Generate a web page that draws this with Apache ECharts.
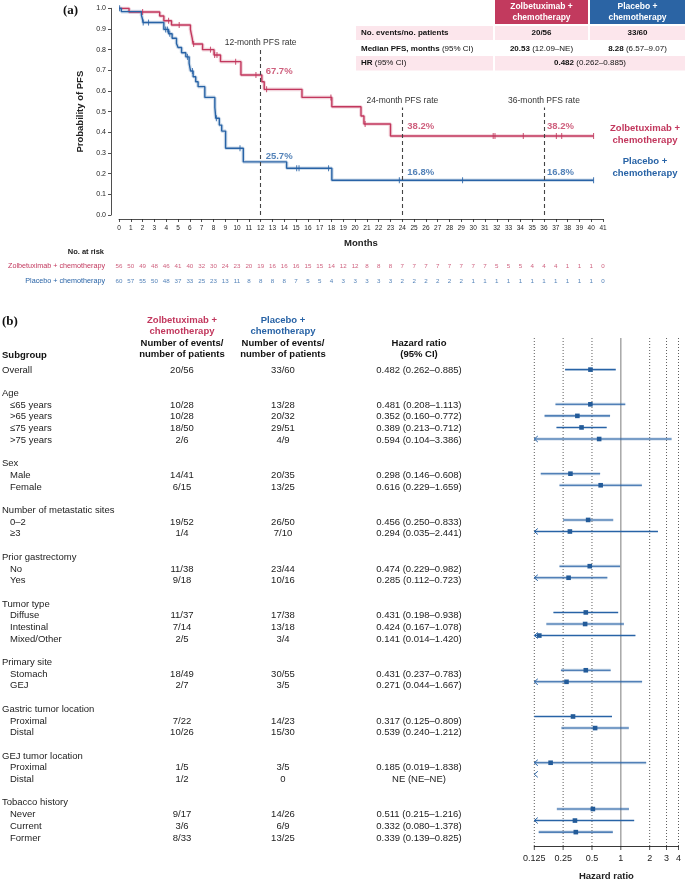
<!DOCTYPE html>
<html>
<head>
<meta charset="utf-8">
<script src="https://cdn.jsdelivr.net/npm/echarts@6/dist/echarts.min.js"></script>
<style>
  html, body { margin: 0; padding: 0; background: #fff; }
  #main { width: 685px; height: 886px; }
</style>
</head>
<body>
<div id="main"></div>
<script>
// ---- panel (a): Kaplan-Meier PFS ----
const zolbeSteps = [
  [0, 1], [0.85, 0.982], [3.45, 0.963], [3.8, 0.94], [4.45, 0.919], [6.05, 0.898], [6.12, 0.877],
  [6.2, 0.856], [6.28, 0.827], [7.08, 0.8], [8.05, 0.774], [8.6, 0.742], [10.33, 0.677],
  [12.1, 0.645], [12.3, 0.608], [15.5, 0.569], [18.03, 0.524], [20.5, 0.479], [20.75, 0.44],
  [23.0, 0.382], [40.2, 0.382]
];
const placeboSteps = [
  [0, 1], [0.2, 0.984], [1.9, 0.967], [1.97, 0.952], [2.04, 0.931], [3.8, 0.898], [4.2, 0.877],
  [4.5, 0.855], [4.87, 0.83], [5.0, 0.81], [5.3, 0.785], [5.66, 0.765], [5.94, 0.734],
  [6.06, 0.697], [6.28, 0.669], [6.5, 0.645], [6.7, 0.621], [7.27, 0.569], [8.12, 0.52],
  [8.2, 0.468], [8.5, 0.435], [8.7, 0.406], [9.03, 0.323], [10.53, 0.257], [14.2, 0.226],
  [18.03, 0.168], [40.2, 0.168]
];
const zolbeCensor = [2.0, 4.2, 5.1, 6.32, 7.75, 8.1, 8.3, 9.88, 11.6, 12.5, 17.95, 20.85, 31.7, 31.85, 34.25, 37.05, 37.5, 40.2];
const placeboCensor = [0.05, 2.05, 2.5, 3.95, 4.1, 4.3, 5.8, 6.22, 8.25, 10.25, 15.05, 15.25, 17.75, 23.75, 29.1, 40.2];

const landmarkMonths = [12, 24, 36];
const landmarkTop = [0.8, 0.52, 0.52];
const zolbeRates = [0.677, 0.382, 0.382];
const placeboRates = [0.257, 0.168, 0.168];

const zolbeAtRisk = [56, 50, 49, 48, 46, 41, 40, 32, 30, 24, 23, 20, 19, 16, 16, 16, 15, 15, 14, 12, 12, 8, 8, 8,
  7, 7, 7, 7, 7, 7, 7, 7, 5, 5, 5, 4, 4, 4, 1, 1, 1, 0];
const placeboAtRisk = [60, 57, 55, 50, 48, 37, 33, 25, 23, 13, 11, 8, 8, 8, 8, 7, 5, 5, 4, 3, 3, 3, 3, 3,
  2, 2, 2, 2, 2, 2, 1, 1, 1, 1, 1, 1, 1, 1, 1, 1, 1, 0];

// ---- panel (b): forest plot ----
const subgroups = ['Overall', '', 'Age', '≤65 years', '>65 years', '≤75 years', '>75 years', '',
  'Sex', 'Male', 'Female', '', 'Number of metastatic sites', '0–2', '≥3', '',
  'Prior gastrectomy', 'No', 'Yes', '', 'Tumor type', 'Diffuse', 'Intestinal', 'Mixed/Other', '',
  'Primary site', 'Stomach', 'GEJ', '', 'Gastric tumor location', 'Proximal', 'Distal', '',
  'GEJ tumor location', 'Proximal', 'Distal', '', 'Tobacco history', 'Never', 'Current', 'Former'];
const zolbeEvents = ['20/56', '', '', '10/28', '10/28', '18/50', '2/6', '', '', '14/41', '6/15', '', '', '19/52', '1/4', '',
  '', '11/38', '9/18', '', '', '11/37', '7/14', '2/5', '', '', '18/49', '2/7', '', '', '7/22', '10/26', '',
  '', '1/5', '1/2', '', '', '9/17', '3/6', '8/33'];
const placeboEvents = ['33/60', '', '', '13/28', '20/32', '29/51', '4/9', '', '', '20/35', '13/25', '', '', '26/50', '7/10', '',
  '', '23/44', '10/16', '', '', '17/38', '13/18', '3/4', '', '', '30/55', '3/5', '', '', '14/23', '15/30', '',
  '', '3/5', '0', '', '', '14/26', '6/9', '13/25'];
const hr = [0.482, null, null, 0.481, 0.352, 0.389, 0.594, null, null, 0.298, 0.616, null, null, 0.456, 0.294, null,
  null, 0.474, 0.285, null, null, 0.431, 0.424, 0.141, null, null, 0.431, 0.271, null, null, 0.317, 0.539, null,
  null, 0.185, 'NE', null, null, 0.511, 0.332, 0.339];
const ciLow = [0.262, null, null, 0.208, 0.160, 0.213, 0.104, null, null, 0.146, 0.229, null, null, 0.250, 0.035, null,
  null, 0.229, 0.112, null, null, 0.198, 0.167, 0.014, null, null, 0.237, 0.044, null, null, 0.125, 0.240, null,
  null, 0.019, 'NE', null, null, 0.215, 0.080, 0.139];
const ciHigh = [0.885, null, null, 1.113, 0.772, 0.712, 3.386, null, null, 0.608, 1.659, null, null, 0.833, 2.441, null,
  null, 0.982, 0.723, null, null, 0.938, 1.078, 1.420, null, null, 0.783, 1.667, null, null, 0.809, 1.212, null,
  null, 1.838, 'NE', null, null, 1.216, 1.378, 0.825];
const hrTicks = [0.125, 0.25, 0.5, 1, 2, 3, 4];

const RED = '#c2375d';
const BLUE = '#2863a6';
const FONT = '"Liberation Sans", Arial, sans-serif';
const isHeader = (i) => subgroups[i] !== '' && subgroups[i] !== 'Overall' && zolbeEvents[i] === '';

function survAt(steps, t) {
  let s = steps[0][1];
  for (const p of steps) { if (p[0] <= t) s = p[1]; }
  return s;
}
function fmt3(v) { return v === 'NE' ? 'NE' : v.toFixed(3); }

const ROW_MIN = -2.735, ROW_MAX = 41.2;

const chart = echarts.init(document.getElementById('main'), null, { renderer: 'canvas' });

function kmSeries(steps, color, censor, rates, dy) {
  return [
    {
      type: 'line', xAxisIndex: 0, yAxisIndex: 0, step: 'end', data: steps, symbol: 'none',
      lineStyle: { color: color, width: 3.6, opacity: 0.22 }, silent: true, z: 2
    },
    {
      type: 'line', xAxisIndex: 0, yAxisIndex: 0, step: 'end', data: steps, symbol: 'none',
      lineStyle: { color: color, width: 1.4 }, z: 3
    },
    {
      type: 'scatter', xAxisIndex: 0, yAxisIndex: 0, symbol: 'rect', symbolSize: [1.1, 6],
      itemStyle: { color: color }, data: censor.map(t => [t, survAt(steps, t)]), z: 4
    },
    {
      type: 'scatter', xAxisIndex: 0, yAxisIndex: 0, symbolSize: 0, z: 5,
      data: landmarkMonths.map((m, i) => ({
        value: [m, rates[i]],
        label: { position: [i === 2 ? 3 : 5, dy[i]] }
      })),
      label: {
        show: true, align: 'left', verticalAlign: 'middle',
        formatter: p => (p.value[1] * 100).toFixed(1) + '%',
        color: color, fontWeight: 'bold', fontSize: 9.5, fontFamily: FONT
      }
    }
  ];
}

const series = [
  ...kmSeries(zolbeSteps, RED, zolbeCensor, zolbeRates, [-4, -10, -10]),
  ...kmSeries(placeboSteps, BLUE, placeboCensor, placeboRates, [-6, -8, -8])
];

// landmark dashed lines
series.push({
  type: 'line', xAxisIndex: 0, yAxisIndex: 0, data: [], silent: true,
  markLine: {
    symbol: 'none', silent: true, animation: false,
    lineStyle: { type: [4, 3], color: '#444', width: 1.1 },
    label: { show: true, position: 'end', distance: 2, color: '#333', fontSize: 8.5, fontFamily: FONT },
    data: landmarkMonths.map((m, i) => [
      { coord: [m, 0] },
      { coord: [m, landmarkTop[i]], label: { formatter: m + '-month PFS rate' } }
    ])
  }
});

// number at risk
[[zolbeAtRisk, 1, RED], [placeboAtRisk, 0, BLUE]].forEach(([arr, row, color]) => {
  series.push({
    type: 'scatter', xAxisIndex: 1, yAxisIndex: 1, symbolSize: 0,
    data: arr.map((n, i) => [i, row, n]),
    label: { show: true, position: 'inside', formatter: p => p.value[2], color: color, fontSize: 6.2, fontFamily: FONT }
  });
});

// forest reference lines and tick labels
series.push({
  type: 'custom', xAxisIndex: 2, yAxisIndex: 2, silent: true, clip: false,
  data: hrTicks.map(v => [v, 0]),
  renderItem: (params, api) => {
    const v = api.value(0);
    const top = api.coord([v, ROW_MIN]);
    const bot = api.coord([v, ROW_MAX]);
    const solid = v === 1;
    return {
      type: 'group', children: [
        {
          type: 'line', shape: { x1: top[0], y1: top[1], x2: bot[0], y2: bot[1] },
          style: solid ? { stroke: '#9a9a9a', lineWidth: 1.3 } : { stroke: '#333', lineWidth: 0.8, lineDash: [1, 2] }
        },
        { type: 'line', shape: { x1: bot[0], y1: bot[1], x2: bot[0], y2: bot[1] + 4 }, style: { stroke: '#222', lineWidth: 0.8 } },
        {
          type: 'text', x: bot[0], y: bot[1] + 8,
          style: { text: String(v), fill: '#222', fontSize: 9, fontFamily: FONT, align: 'center', verticalAlign: 'top' }
        }
      ]
    };
  }
});

// forest CIs
const forestRows = hr.map((v, i) => (v === null ? -1 : i)).filter(i => i >= 0);
series.push({
  type: 'custom', xAxisIndex: 2, yAxisIndex: 2, clip: false,
  data: forestRows.map(r => [1, r]),
  renderItem: (params, api) => {
    const r = api.value(1);
    const children = [];
    const arrow = () => {
      const p = api.coord([0.125, r]);
      children.push({
        type: 'polyline', shape: { points: [[p[0] + 3.5, p[1] - 3], [p[0], p[1]], [p[0] + 3.5, p[1] + 3]] },
        style: { stroke: BLUE, lineWidth: 1, fill: null }
      });
    };
    if (hr[r] === 'NE') {
      arrow();
      return { type: 'group', children };
    }
    const lo = api.coord([Math.max(ciLow[r], 0.125), r]);
    const hi = api.coord([Math.min(ciHigh[r], 4), r]);
    const c = api.coord([hr[r], r]);
    children.push({
      type: 'line', shape: { x1: lo[0], y1: lo[1], x2: hi[0], y2: hi[1] },
      style: { stroke: BLUE, lineWidth: 3, opacity: 0.25 }
    });
    children.push({
      type: 'line', shape: { x1: lo[0], y1: lo[1], x2: hi[0], y2: hi[1] },
      style: { stroke: BLUE, lineWidth: 1.1 }
    });
    if (ciLow[r] < 0.125) arrow();
    children.push({
      type: 'rect', shape: { x: c[0] - 2.3, y: c[1] - 2.3, width: 4.6, height: 4.6 },
      style: { fill: '#235b99' }
    });
    return { type: 'group', children };
  }
});

// forest table text
series.push({
  type: 'custom', xAxisIndex: 3, yAxisIndex: 3, silent: true, clip: false,
  data: subgroups.map((s, i) => [0, i]),
  renderItem: (params, api) => {
    const r = api.value(1);
    const txt = (x, text, align) => {
      const p = api.coord([x, r]);
      return {
        type: 'text', x: p[0], y: p[1],
        style: { text: text, fill: '#222', fontSize: 9.5, fontFamily: FONT, align: align, verticalAlign: 'middle' }
      };
    };
    const indent = subgroups[r] === 'Overall' || isHeader(r) ? 2 : 10;
    const children = [txt(indent, subgroups[r], 'left')];
    if (zolbeEvents[r] !== '') {
      children.push(txt(182, zolbeEvents[r], 'center'));
      children.push(txt(283, placeboEvents[r], 'center'));
      const hrStr = hr[r] === 'NE' ? 'NE (NE–NE)' : fmt3(hr[r]) + ' (' + fmt3(ciLow[r]) + '–' + fmt3(ciHigh[r]) + ')';
      children.push(txt(419, hrStr, 'center'));
    }
    return { type: 'group', children };
  }
});

const axisText = { color: '#222', fontFamily: FONT };

const option = {
  animation: false,
  backgroundColor: '#fff',
  textStyle: { fontFamily: FONT },
  grid: [
    { left: 119, right: 82, top: 8.3, height: 206.7 },
    { left: 119, right: 82, top: 266, height: 15 },
    { left: 534.3, right: 6.5, top: 338, bottom: 34 },
    { left: 0, width: 500, top: 338, bottom: 34 }
  ],
  xAxis: [
    {
      gridIndex: 0, type: 'value', min: 0, max: 41, interval: 1, offset: 4,
      axisLine: { onZero: false, lineStyle: { color: '#222', width: 0.8 } },
      axisTick: { length: 3, lineStyle: { color: '#222', width: 0.8 } },
      axisLabel: { ...axisText, fontSize: 6.5, margin: 6 },
      splitLine: { show: false },
      name: 'Months', nameLocation: 'middle', nameGap: 19,
      nameTextStyle: { ...axisText, fontSize: 9.5, fontWeight: 'bold' }
    },
    { gridIndex: 1, type: 'value', min: 0, max: 41, show: false },
    {
      gridIndex: 2, type: 'log', logBase: 2, min: 0.125, max: 4,
      axisLine: { onZero: false, lineStyle: { color: '#222', width: 0.9 } },
      axisTick: { show: false }, axisLabel: { show: false }, splitLine: { show: false },
      name: 'Hazard ratio', nameLocation: 'middle', nameGap: 25,
      nameTextStyle: { ...axisText, fontSize: 9.5, fontWeight: 'bold' }
    },
    { gridIndex: 3, type: 'value', min: 0, max: 500, show: false }
  ],
  yAxis: [
    {
      gridIndex: 0, type: 'value', min: 0, max: 1, interval: 0.1, offset: 8,
      axisLine: { show: true, onZero: false, lineStyle: { color: '#222', width: 0.8 } },
      axisTick: { show: true, length: 3, lineStyle: { color: '#222', width: 0.8 } },
      axisLabel: { ...axisText, fontSize: 7, margin: 5, formatter: v => v.toFixed(1) },
      splitLine: { show: false },
      name: 'Probability of PFS', nameLocation: 'middle', nameGap: 25,
      nameTextStyle: { ...axisText, fontSize: 9.5, fontWeight: 'bold' }
    },
    {
      gridIndex: 1, type: 'category', boundaryGap: false,
      data: ['Placebo + chemotherapy', 'Zolbetuximab + chemotherapy'],
      axisLine: { show: false }, axisTick: { show: false },
      axisLabel: {
        fontSize: 7.2, margin: 14, fontFamily: FONT,
        color: (v) => (v.indexOf('Zolbe') === 0 ? RED : BLUE)
      }
    },
    { gridIndex: 2, type: 'value', inverse: true, min: ROW_MIN, max: ROW_MAX, show: false },
    { gridIndex: 3, type: 'value', inverse: true, min: ROW_MIN, max: ROW_MAX, show: false }
  ],
  series: series,
  graphic: [
    // panel labels
    { type: 'text', left: 63, top: 4, style: { text: '(a)', font: 'bold 13px "Liberation Serif", serif', fill: '#111' } },
    { type: 'text', left: 2, top: 315, style: { text: '(b)', font: 'bold 13px "Liberation Serif", serif', fill: '#111' } },
    // arm labels at right of KM
    {
      type: 'text', x: 645, y: 134,
      style: { text: 'Zolbetuximab +\nchemotherapy', fill: RED, font: 'bold 9.5px ' + FONT, align: 'center', verticalAlign: 'middle', lineHeight: 12 }
    },
    {
      type: 'text', x: 645, y: 167,
      style: { text: 'Placebo +\nchemotherapy', fill: BLUE, font: 'bold 9.5px ' + FONT, align: 'center', verticalAlign: 'middle', lineHeight: 12 }
    },
    // number at risk title
    { type: 'text', x: 104, y: 252, style: { text: 'No. at risk', fill: '#222', font: 'bold 7.5px ' + FONT, align: 'right', verticalAlign: 'middle' } },
    // summary table
    { type: 'rect', shape: { x: 495, y: 0, width: 93, height: 24 }, style: { fill: '#c23a5e' } },
    { type: 'rect', shape: { x: 590, y: 0, width: 95, height: 24 }, style: { fill: '#2b64a4' } },
    {
      type: 'text', x: 541.5, y: 12,
      style: { text: 'Zolbetuximab +\nchemotherapy', fill: '#fff', font: 'bold 8.5px ' + FONT, align: 'center', verticalAlign: 'middle', lineHeight: 10.5 }
    },
    {
      type: 'text', x: 637.5, y: 12,
      style: { text: 'Placebo +\nchemotherapy', fill: '#fff', font: 'bold 8.5px ' + FONT, align: 'center', verticalAlign: 'middle', lineHeight: 10.5 }
    },
    { type: 'rect', shape: { x: 356, y: 26, width: 137, height: 14 }, style: { fill: '#fce6ec' } },
    { type: 'rect', shape: { x: 495, y: 26, width: 93, height: 14 }, style: { fill: '#fce6ec' } },
    { type: 'rect', shape: { x: 590, y: 26, width: 95, height: 14 }, style: { fill: '#fce6ec' } },
    { type: 'rect', shape: { x: 356, y: 56, width: 137, height: 14.5 }, style: { fill: '#fce6ec' } },
    { type: 'rect', shape: { x: 495, y: 56, width: 190, height: 14.5 }, style: { fill: '#fce6ec' } },
    {
      type: 'text', x: 361, y: 33,
      style: { text: 'No. events/no. patients', fill: '#111', font: 'bold 8px ' + FONT, verticalAlign: 'middle' }
    },
    { type: 'text', x: 541.5, y: 33, style: { text: '20/56', fill: '#111', font: 'bold 8px ' + FONT, align: 'center', verticalAlign: 'middle' } },
    { type: 'text', x: 637.5, y: 33, style: { text: '33/60', fill: '#111', font: 'bold 8px ' + FONT, align: 'center', verticalAlign: 'middle' } },
    {
      type: 'text', x: 361, y: 48.5,
      style: {
        text: '{b|Median PFS, months} (95% CI)', fill: '#111', fontSize: 8, fontFamily: FONT, verticalAlign: 'middle',
        rich: { b: { fontWeight: 'bold', fontSize: 8, fontFamily: FONT, fill: '#111' } }
      }
    },
    {
      type: 'text', x: 541.5, y: 48.5,
      style: {
        text: '{b|20.53} (12.09–NE)', fill: '#111', fontSize: 8, fontFamily: FONT, align: 'center', verticalAlign: 'middle',
        rich: { b: { fontWeight: 'bold', fontSize: 8, fontFamily: FONT, fill: '#111' } }
      }
    },
    {
      type: 'text', x: 637.5, y: 48.5,
      style: {
        text: '{b|8.28} (6.57–9.07)', fill: '#111', fontSize: 8, fontFamily: FONT, align: 'center', verticalAlign: 'middle',
        rich: { b: { fontWeight: 'bold', fontSize: 8, fontFamily: FONT, fill: '#111' } }
      }
    },
    {
      type: 'text', x: 361, y: 63.2,
      style: {
        text: '{b|HR} (95% CI)', fill: '#111', fontSize: 8, fontFamily: FONT, verticalAlign: 'middle',
        rich: { b: { fontWeight: 'bold', fontSize: 8, fontFamily: FONT, fill: '#111' } }
      }
    },
    {
      type: 'text', x: 590, y: 63.2,
      style: {
        text: '{b|0.482} (0.262–0.885)', fill: '#111', fontSize: 8, fontFamily: FONT, align: 'center', verticalAlign: 'middle',
        rich: { b: { fontWeight: 'bold', fontSize: 8, fontFamily: FONT, fill: '#111' } }
      }
    },
    // forest table header
    {
      type: 'text', x: 182, y: 326,
      style: { text: 'Zolbetuximab +\nchemotherapy', fill: RED, font: 'bold 9.5px ' + FONT, align: 'center', verticalAlign: 'middle', lineHeight: 11.5 }
    },
    {
      type: 'text', x: 283, y: 326,
      style: { text: 'Placebo +\nchemotherapy', fill: BLUE, font: 'bold 9.5px ' + FONT, align: 'center', verticalAlign: 'middle', lineHeight: 11.5 }
    },
    {
      type: 'text', x: 182, y: 349,
      style: { text: 'Number of events/\nnumber of patients', fill: '#111', font: 'bold 9.5px ' + FONT, align: 'center', verticalAlign: 'middle', lineHeight: 11.5 }
    },
    {
      type: 'text', x: 283, y: 349,
      style: { text: 'Number of events/\nnumber of patients', fill: '#111', font: 'bold 9.5px ' + FONT, align: 'center', verticalAlign: 'middle', lineHeight: 11.5 }
    },
    {
      type: 'text', x: 419, y: 349,
      style: { text: 'Hazard ratio\n(95% CI)', fill: '#111', font: 'bold 9.5px ' + FONT, align: 'center', verticalAlign: 'middle', lineHeight: 11.5 }
    },
    { type: 'text', x: 2, y: 355, style: { text: 'Subgroup', fill: '#111', font: 'bold 9.5px ' + FONT, verticalAlign: 'middle' } }
  ]
};

chart.setOption(option);
</script>
</body>
</html>
